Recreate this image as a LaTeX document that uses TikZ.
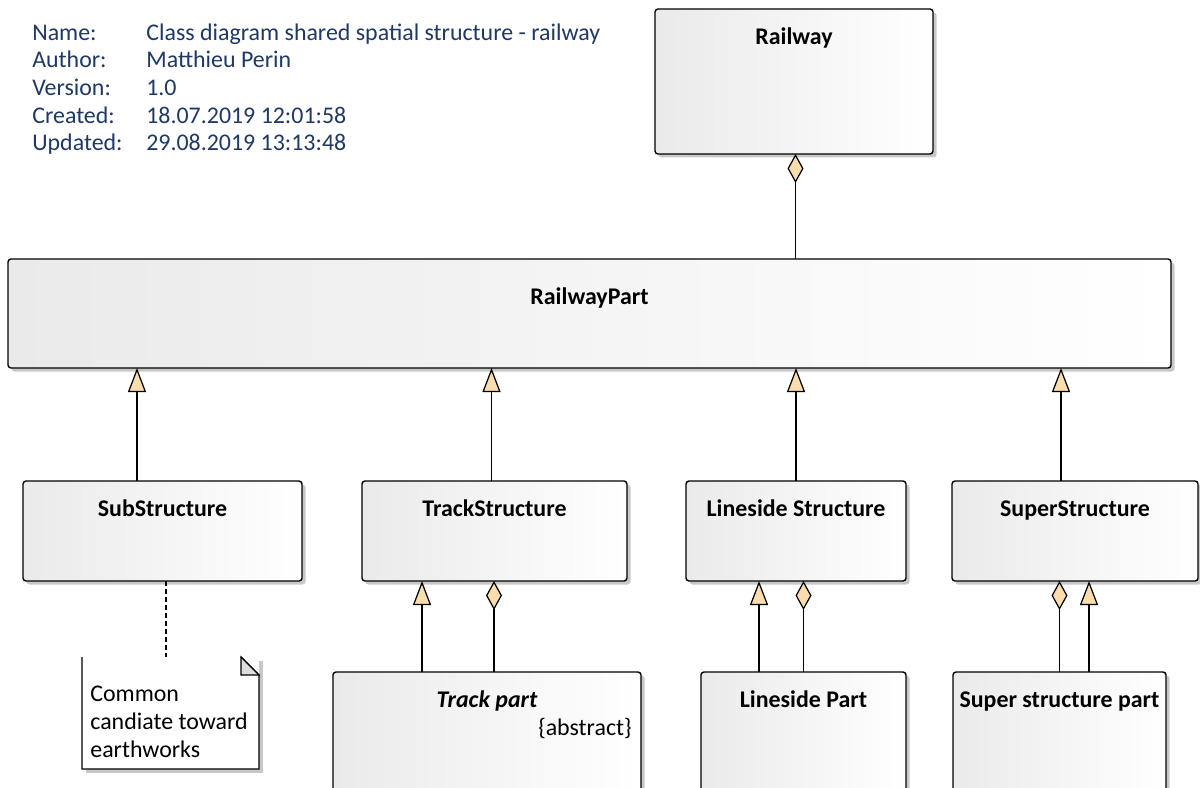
\documentclass[tikz,border=0pt]{standalone}
\usepackage{fontspec}
\setmainfont{Carlito}
\usepackage{tikz}
\usetikzlibrary{
  arrows.meta,
  positioning,
  shadows
}
\definecolor{umlnavy}{RGB}{31,56,100}
\definecolor{umlfill}{RGB}{249,221,172}
\definecolor{umlgray}{RGB}{234,234,234}
\definecolor{umlshadow}{RGB}{200,200,200}
\definecolor{umlfold}{RGB}{221,221,221}
\tikzset{
  cls/.style={
    rectangle, rounded corners=1.7pt, draw=black, line width=0.8pt,
    left color=umlgray, right color=white,
    minimum height=2.0cm, inner sep=0pt, outer sep=0pt,
    drop shadow={shadow xshift=0.07cm, shadow yshift=-0.07cm,
                 fill=umlshadow, opacity=1}
  },
  clsname/.style={
    anchor=base, inner sep=0pt, font=\fontsize{13.6}{16}\selectfont\bfseries
  },
  notebox/.style={
    rectangle, fill=white, inner sep=0pt, outer sep=0pt,
    drop shadow={shadow xshift=0.07cm, shadow yshift=-0.07cm,
                 fill=umlshadow, opacity=1}
  },
  noteline/.style={line width=0.7pt, line join=miter},
  gen/.style={-{Triangle[length=0.48cm, width=0.36cm, fill=umlfill]}, line width=0.7pt},
  agg/.style={-{Diamond[length=0.58cm, width=0.32cm, fill=umlfill]}, line width=0.7pt},
  notelink/.style={dash pattern=on 0.09cm off 0.07cm, line width=0.7pt}
}

\begin{document}
\begin{tikzpicture}[font=\fontsize{13.6}{15.6}\selectfont]
  \useasboundingbox (0,0) rectangle (24,-15.74);

  % diagram header
  \node[anchor=base west, inner sep=0pt, text=umlnavy,
        font=\fontsize{13.6}{15.65}\selectfont] (meta) at (0.64,-0.81)
    {\begin{tabular}[t]{@{}p{2.28cm}@{}l@{}}
       Name:    & Class diagram shared spatial structure - railway\\
       Author:  & Matthieu Perin\\
       Version: & 1.0\\
       Created: & 18.07.2019 12:01:58\\
       Updated: & 29.08.2019 13:13:48
     \end{tabular}};

  % classes
  \node[cls, anchor=north west, minimum width=5.56cm, minimum height=2.9cm]
    (rw) at (13.10,-0.18) {};
  \node[cls, anchor=north west, minimum width=23.26cm, minimum height=2.18cm]
    (rp) at (0.16,-5.18) {};

  \node[cls, below=2.26cm of rp.south west, anchor=north west, xshift=0.3cm,
        minimum width=5.58cm] (ss) {};
  \node[cls, right=1.2cm of ss, minimum width=5.3cm]  (ts) {};
  \node[cls, right=1.18cm of ts, minimum width=4.4cm] (ls) {};
  \node[cls, right=0.92cm of ls, minimum width=4.92cm] (sp) {};

  \node[cls, below=1.82cm of ts.south west, anchor=north west, xshift=-0.58cm,
        minimum width=6.16cm, minimum height=2.6cm] (tp) {};
  \node[cls, below=1.82cm of ls.south west, anchor=north west, xshift=0.3cm,
        minimum width=4.1cm, minimum height=2.6cm] (lp) {};
  \node[cls, below=1.82cm of sp.south west, anchor=north west, xshift=0.02cm,
        minimum width=4.26cm, minimum height=2.6cm] (pp) {};

  \node[clsname] (rwT) at ([yshift=-0.71cm]rw.north) {Railway};
  \node[clsname] (rpT) at ([yshift=-0.91cm]rp.north) {RailwayPart};
  \node[clsname] (ssT) at ([yshift=-0.71cm]ss.north) {SubStructure};
  \node[clsname] (tsT) at ([yshift=-0.71cm]ts.north) {TrackStructure};
  \node[clsname] (lsT) at ([yshift=-0.71cm]ls.north) {Lineside Structure};
  \node[clsname] (spT) at ([yshift=-0.71cm]sp.north) {SuperStructure};
  \node[clsname, font=\fontsize{13.6}{16}\selectfont\bfseries\itshape]
    (tpT) at ([yshift=-0.71cm]tp.north) {Track part};
  \node[anchor=base east, inner sep=0pt]
    (tpA) at ([xshift=-0.18cm, yshift=-1.26cm]tp.north east) {\{abstract\}};
  \node[clsname] (lpT) at ([yshift=-0.71cm]lp.north) {Lineside Part};
  \node[clsname] (ppT) at ([yshift=-0.71cm]pp.north) {Super structure part};

  % note
  \node[notebox, below=1.52cm of ss.south west, anchor=north west, xshift=1.18cm,
        minimum width=3.54cm, minimum height=2.24cm] (note) {};
  \draw[noteline] (note.north west) -- (note.south west) -- (note.south east)
    -- ([yshift=-0.36cm]note.north east) -- ([xshift=-0.36cm]note.north east);
  \draw[noteline, fill=umlfold] ([xshift=-0.36cm]note.north east)
    -- ([xshift=-0.36cm, yshift=-0.36cm]note.north east)
    -- ([yshift=-0.36cm]note.north east) -- cycle;
  \node[anchor=north west, align=left, inner sep=0pt,
        font=\fontsize{13.6}{15.9}\selectfont]
    (noteT) at ([xshift=0.16cm, yshift=-0.57cm]note.north west)
    {Common\\candiate toward\\earthworks};

  % connectors
  \draw[agg] ([xshift=4.12cm]rp.north) -- ([xshift=4.12cm]rp.north |- rw.south);

  \foreach \n/\dx in {ss/-0.51, ts/-0.06, ls/0, sp/-0.28}
    \draw[gen] ([xshift=\dx cm]\n.north) -- ([xshift=\dx cm]\n.north |- rp.south);

  \draw[gen] ([xshift=-1.3cm]tp.north) -- ([xshift=-1.3cm]tp.north |- ts.south);
  \draw[agg] ([xshift=0.14cm]tp.north) -- ([xshift=0.14cm]tp.north |- ts.south);
  \draw[gen] ([xshift=-0.89cm]lp.north) -- ([xshift=-0.89cm]lp.north |- ls.south);
  \draw[agg] (lp.north) -- (lp.north |- ls.south);
  \draw[agg] (pp.north) -- (pp.north |- sp.south);
  \draw[gen] ([xshift=0.59cm]pp.north) -- ([xshift=0.59cm]pp.north |- sp.south);

  \draw[notelink] ([xshift=0.07cm]ss.south) -- ([xshift=0.07cm]ss.south |- note.north);
\end{tikzpicture}
\end{document}
